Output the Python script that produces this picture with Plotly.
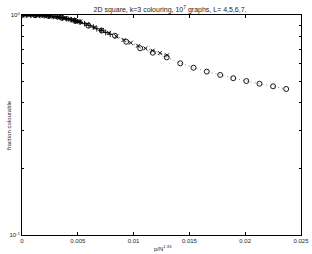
import plotly.graph_objects as go

# L = 4 (circles, dotted)
x_L4 = [0.0, 0.00119, 0.00238, 0.00357, 0.00476, 0.00595, 0.00714, 0.00833,
        0.00934, 0.01059, 0.01172, 0.01297, 0.01418, 0.01537, 0.01656, 0.01776,
        0.01893, 0.0201, 0.02128, 0.0225, 0.02367]
y_L4 = [1.0, 0.998, 0.99, 0.972, 0.94, 0.895, 0.85, 0.805,
        0.756, 0.706, 0.674, 0.642, 0.603, 0.576, 0.553, 0.534,
        0.516, 0.501, 0.487, 0.474, 0.461]

# L = 5 (x marks, dash-dot)
x_L5 = [0.0, 0.00065, 0.0013, 0.00195, 0.0026, 0.00325, 0.0039, 0.00455, 0.0052,
        0.00585, 0.0065, 0.00715, 0.0078, 0.00845, 0.0091, 0.00975, 0.0104,
        0.01105, 0.0117, 0.01235, 0.013]
y_L5 = [1.0, 0.999, 0.998, 0.995, 0.99, 0.982, 0.97, 0.955, 0.935,
        0.91, 0.88, 0.855, 0.83, 0.8, 0.77, 0.748, 0.725,
        0.705, 0.688, 0.672, 0.656]

# L = 6 (plus, dashed)
x_L6 = [0.0, 0.0004, 0.0008, 0.0012, 0.0016, 0.002, 0.0024, 0.0028, 0.0032,
        0.0036, 0.004, 0.0044, 0.0048, 0.0052, 0.0056, 0.006, 0.0064, 0.0067,
        0.0071, 0.0075, 0.0079]
y_L6 = [1.0, 1.0, 0.999, 0.998, 0.996, 0.993, 0.989, 0.984, 0.978,
        0.97, 0.962, 0.952, 0.94, 0.928, 0.913, 0.897, 0.882, 0.866,
        0.85, 0.833, 0.817]

# L = 7 (asterisk, solid)
x_L7 = [0.0, 0.00026, 0.00052, 0.00078, 0.00104, 0.0013, 0.00157, 0.00183,
        0.00209, 0.00235, 0.00261, 0.00287, 0.00313, 0.00339, 0.00365, 0.00392,
        0.00418, 0.00444, 0.0047, 0.00496, 0.00522]
y_L7 = [1.0, 1.0, 1.0, 0.999, 0.999, 0.998, 0.996, 0.995,
        0.993, 0.99, 0.987, 0.983, 0.979, 0.975, 0.97, 0.964,
        0.958, 0.951, 0.944, 0.936, 0.928]

x_ticks = [0, 0.005, 0.01, 0.015, 0.02, 0.025]
x_ticklabels = ["0", "0.005", "0.01", "0.015", "0.02", "0.025"]
y_ticks = [0.1, 1]
y_ticklabels = ["10<sup>-1</sup>", "10<sup>0</sup>"]
y_minor = [0.2, 0.3, 0.4, 0.5, 0.6, 0.7, 0.8, 0.9]

FONT = "Liberation Sans, Arial, sans-serif"
TXT = "#222222"

fig = go.Figure()
series = [
    (x_L4, y_L4, "circle-open", "1px,3px", 5, "#888888", 1.0),
    (x_L5, y_L5, "x-thin-open", "3px,2px,1px,2px", 4, "#444444", 0.7),
    (x_L6, y_L6, "cross-thin-open", "3px,2px", 4, "#333333", 0.8),
    (x_L7, y_L7, "asterisk-open", "solid", 4, "#222222", 0.9),
]
for xs, ys, sym, dash, ms, lc, lw in series:
    fig.add_trace(go.Scatter(
        x=xs, y=ys, mode="lines+markers",
        line=dict(color=lc, width=lw, dash=dash),
        marker=dict(symbol=sym, size=ms, color="black",
                    line=dict(color="black", width=0.9)),
        showlegend=False,
    ))

fig.update_layout(
    width=312, height=254,
    margin=dict(l=22, r=11, t=15, b=19, autoexpand=False),
    paper_bgcolor="white", plot_bgcolor="white",
    font=dict(family=FONT, size=6, color=TXT),
    title=dict(text="2D square, k=3 colouring, 10<sup>7</sup> graphs, L= 4,5,6,7.",
               x=0.545, xanchor="center", y=0.962, yanchor="middle",
               font=dict(family=FONT, size=7, color=TXT)),
    annotations=[
        dict(text="fraction colourable", xref="paper", yref="paper",
             x=-0.047, y=0.5, xanchor="center", yanchor="middle",
             textangle=-90, showarrow=False,
             font=dict(family=FONT, size=6, color=TXT)),
        dict(text="p/N<sup>1.35</sup>", xref="paper", yref="paper",
             x=0.505, y=-0.058, xanchor="center", yanchor="middle",
             showarrow=False, font=dict(family=FONT, size=6, color=TXT)),
    ],
)
fig.update_xaxes(
    range=[0, 0.025], tickvals=x_ticks, ticktext=x_ticklabels,
    ticks="inside", ticklen=3, tickwidth=0.7, tickcolor="black",
    showline=True, linecolor="black", linewidth=1, mirror="ticks",
    showgrid=False, zeroline=False, automargin=False,
    tickfont=dict(size=6, family=FONT, color=TXT),
)
fig.update_yaxes(
    type="log", range=[-1, 0], tickvals=y_ticks, ticktext=y_ticklabels,
    ticks="inside", ticklen=3, tickwidth=0.7, tickcolor="black",
    showline=True, linecolor="black", linewidth=1, mirror="ticks",
    showgrid=False, zeroline=False, automargin=False,
    minor=dict(tickvals=y_minor, ticks="inside", ticklen=2, tickcolor="black", tickwidth=0.6),
    tickfont=dict(size=6, family=FONT, color=TXT),
)

fig.write_html("out.html", config={"displayModeBar": False},
               post_script="document.body.style.margin='0';")
